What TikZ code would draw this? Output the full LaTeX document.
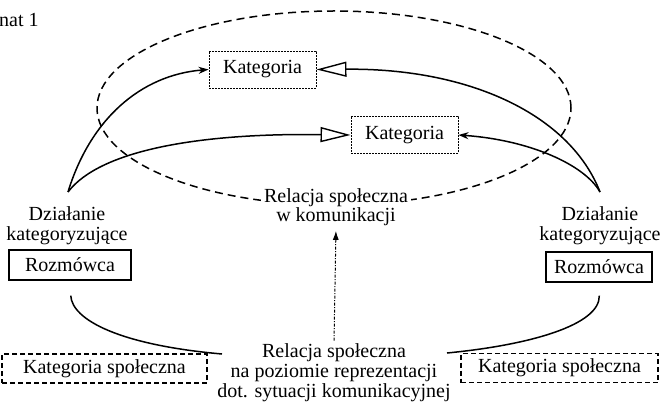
\documentclass[tikz,border=0pt]{standalone}
\usepackage{fontspec}
\setmainfont{Liberation Serif}
\usetikzlibrary{arrows.meta}
\tikzset{
  every node/.style={font=\fontsize{20}{20}\selectfont},
  lbl/.style={align=center, inner sep=1pt},
  katbox/.style={draw, line width=0.9pt, dash pattern=on 2pt off 1pt, minimum width=107pt, minimum height=37pt, inner sep=0pt},
  rozbox/.style={draw, line width=1.3pt, minimum height=30pt, inner sep=0pt},
  ksbox/.style={draw, line width=1.3pt, dash pattern=on 5pt off 3pt, minimum height=29pt, inner sep=0pt},
  conn/.style={line width=1.5pt},
  fillarrow/.style={-{Stealth[length=10pt,width=7pt]}},
  openarrow/.style={-{Triangle[open,length=30pt,width=15pt,line width=1.4pt]}},
}
\begin{document}
\begin{tikzpicture}[x=1pt,y=-1pt]
\useasboundingbox (0,0) rectangle (660,406);
\node[anchor=base west, inner sep=0pt] (title) at (-1,27) {nat 1};
% dashed ellipse
\draw[line width=1.5pt, dash pattern=on 8pt off 5pt] (334,108) ellipse [x radius=237pt, y radius=97pt];
% boxes
\node[katbox] (kat1) at (262.5,69.5) {Kategoria};
\node[katbox] (kat2) at (404.5,135) {Kategoria};
\node[lbl, fill=white, inner xsep=3pt, font=\fontsize{20}{17}\selectfont] (relTop) at (336,207) {Relacja społeczna\\w komunikacji};
\node[lbl] (dzL) at (67,226) {Działanie\\kategoryzujące};
\node[lbl] (dzR) at (600,226) {Działanie\\kategoryzujące};
\node[rozbox, minimum width=122pt] (rozL) at (70,265) {Rozmówca};
\node[rozbox, minimum width=106pt] (rozR) at (599,267) {Rozmówca};
\node[ksbox, minimum width=205pt] (ksL) at (104.5,368.5) {Kategoria społeczna};
\node[ksbox, minimum width=197pt] (ksR) at (559.5,368) {Kategoria społeczna};
\node[lbl] (relBot) at (334,373) {Relacja społeczna\\na poziomie reprezentacji\\dot. sytuacji komunikacyjnej};
% free ends
\coordinate (apexL) at (68,192);
\coordinate (apexR) at (600,192);
\coordinate (bL) at (222,354);
\coordinate (bR) at (447,353);
% upper curves
\draw[conn, fillarrow] (apexL) .. controls (90,120) and (140,75) .. (kat1.west);
\draw[conn, openarrow] (apexL) .. controls (100,150) and (200,133) .. (kat2.west);
\draw[conn, openarrow] (apexR) .. controls (570,115) and (470,68) .. (kat1.east);
\draw[conn, fillarrow] (apexR) .. controls (585,165) and (530,140) .. (kat2.east);
% lower curves
\draw[conn, shorten <=15pt] (rozL.south) .. controls (72,320) and (120,345) .. (bL);
\draw[conn, shorten <=13pt] (rozR.south) .. controls (600,325) and (530,345) .. (bR);
% dotted vertical arrow
\draw[line width=1pt, dash pattern=on 3pt off 1.5pt on 1pt off 1.5pt, -{Latex[length=9pt,width=6pt]}, shorten <=2pt, shorten >=4pt] (relBot.north) -- (relTop.south);
\end{tikzpicture}
\end{document}
